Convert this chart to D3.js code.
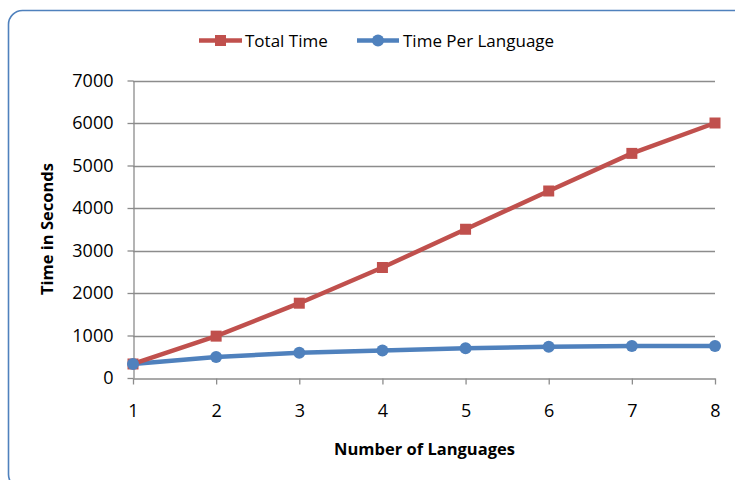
<!DOCTYPE html>
<html>
<head>
<meta charset="utf-8">
<script src="https://cdn.jsdelivr.net/npm/d3@7"></script>
<style>
  html, body { margin: 0; padding: 0; background: #ffffff; }
  svg { display: block; }
</style>
</head>
<body>
<script>
const categories = [1, 2, 3, 4, 5, 6, 7, 8];
const totalTime = [330, 985, 1760, 2600, 3500, 4400, 5285, 6000];
const timePerLanguage = [330, 495, 595, 645, 700, 738, 752, 752];
const yTicks = [0, 1000, 2000, 3000, 4000, 5000, 6000, 7000];
const seriesNames = ["Total Time", "Time Per Language"];
const xTitle = "Number of Languages";
const yTitle = "Time in Seconds";

const W = 735, H = 480;
const svg = d3.select("body").append("svg").attr("width", W).attr("height", H);

// chart border
svg.append("rect")
  .attr("x", 8.5).attr("y", 10.5).attr("width", 740).attr("height", 478)
  .attr("rx", 14).attr("ry", 14)
  .attr("fill", "#ffffff").attr("stroke", "#4F81BD").attr("stroke-width", 1.6);

const x = d3.scaleLinear().domain([1, 8]).range([133, 715]);
const y = d3.scaleLinear().domain([0, 7000]).range([378, 80.5]);

const font = "'Open Sans', 'Liberation Sans', sans-serif";

// gridlines
svg.append("g").selectAll("line").data(yTicks.filter(d => d > 0)).join("line")
  .attr("x1", 133).attr("x2", 715)
  .attr("y1", d => Math.round(y(d)) + 0.5).attr("y2", d => Math.round(y(d)) + 0.5)
  .attr("stroke", "#8c8c8c").attr("stroke-width", 1.3);

// y axis
const yAxis = d3.axisLeft(y).tickValues(yTicks).tickFormat(d3.format("d")).tickSize(6).tickPadding(14).tickSizeOuter(0);
const gy = svg.append("g").attr("transform", "translate(133.5,0)").call(yAxis);
gy.select(".domain").attr("stroke", "#8c8c8c").attr("stroke-width", 1.3);
gy.selectAll(".tick line").attr("stroke", "#8c8c8c").attr("stroke-width", 1.3);
gy.selectAll(".tick text").attr("font-family", font).attr("font-size", 18).attr("fill", "#000");

// x axis
const xAxis = d3.axisBottom(x).tickValues(categories).tickFormat(d3.format("d")).tickSize(6).tickPadding(20).tickSizeOuter(0);
const gx = svg.append("g").attr("transform", "translate(0,378.5)").call(xAxis);
gx.select(".domain").attr("stroke", "#8c8c8c").attr("stroke-width", 1.3);
gx.selectAll(".tick line").attr("stroke", "#8c8c8c").attr("stroke-width", 1.3);
gx.selectAll(".tick text").attr("font-family", font).attr("font-size", 18).attr("fill", "#000");

// axis titles
svg.append("text").attr("x", 424.5).attr("y", 455).attr("text-anchor", "middle")
  .attr("font-family", font).attr("font-weight", "bold").attr("font-size", 16.5).attr("fill", "#000")
  .text(xTitle);
svg.append("text").attr("transform", "translate(53,229) rotate(-90)").attr("text-anchor", "middle")
  .attr("font-family", font).attr("font-weight", "bold").attr("font-size", 16.5).attr("fill", "#000")
  .text(yTitle);

const red = "#C0504D", blue = "#4F81BD";
const line = d3.line().x((d, i) => x(categories[i])).y(d => y(d));

// Time per language
svg.append("path").datum(timePerLanguage).attr("d", line)
  .attr("fill", "none").attr("stroke", blue).attr("stroke-width", 4.5).attr("stroke-linejoin", "round");
// Total time
svg.append("path").datum(totalTime).attr("d", line)
  .attr("fill", "none").attr("stroke", red).attr("stroke-width", 4.5).attr("stroke-linejoin", "round");

svg.append("g").selectAll("rect").data(totalTime).join("rect")
  .attr("x", (d, i) => x(categories[i]) - 5.5).attr("y", d => y(d) - 5.5)
  .attr("width", 11).attr("height", 11).attr("fill", red);

svg.append("g").selectAll("circle").data(timePerLanguage).join("circle")
  .attr("cx", (d, i) => x(categories[i])).attr("cy", d => y(d)).attr("r", 6).attr("fill", blue);

// legend
const lg = svg.append("g");
lg.append("line").attr("x1", 199).attr("x2", 242).attr("y1", 40.5).attr("y2", 40.5)
  .attr("stroke", red).attr("stroke-width", 4.5);
lg.append("rect").attr("x", 215).attr("y", 35).attr("width", 11).attr("height", 11).attr("fill", red);
lg.append("text").attr("x", 245).attr("y", 46.5).attr("font-family", font).attr("font-size", 17)
  .attr("fill", "#000").text(seriesNames[0]);
lg.append("line").attr("x1", 357).attr("x2", 399).attr("y1", 40.5).attr("y2", 40.5)
  .attr("stroke", blue).attr("stroke-width", 4.5);
lg.append("circle").attr("cx", 378).attr("cy", 40.5).attr("r", 6).attr("fill", blue);
lg.append("text").attr("x", 403).attr("y", 46.5).attr("font-family", font).attr("font-size", 17)
  .attr("fill", "#000").text(seriesNames[1]);
</script>
</body>
</html>
